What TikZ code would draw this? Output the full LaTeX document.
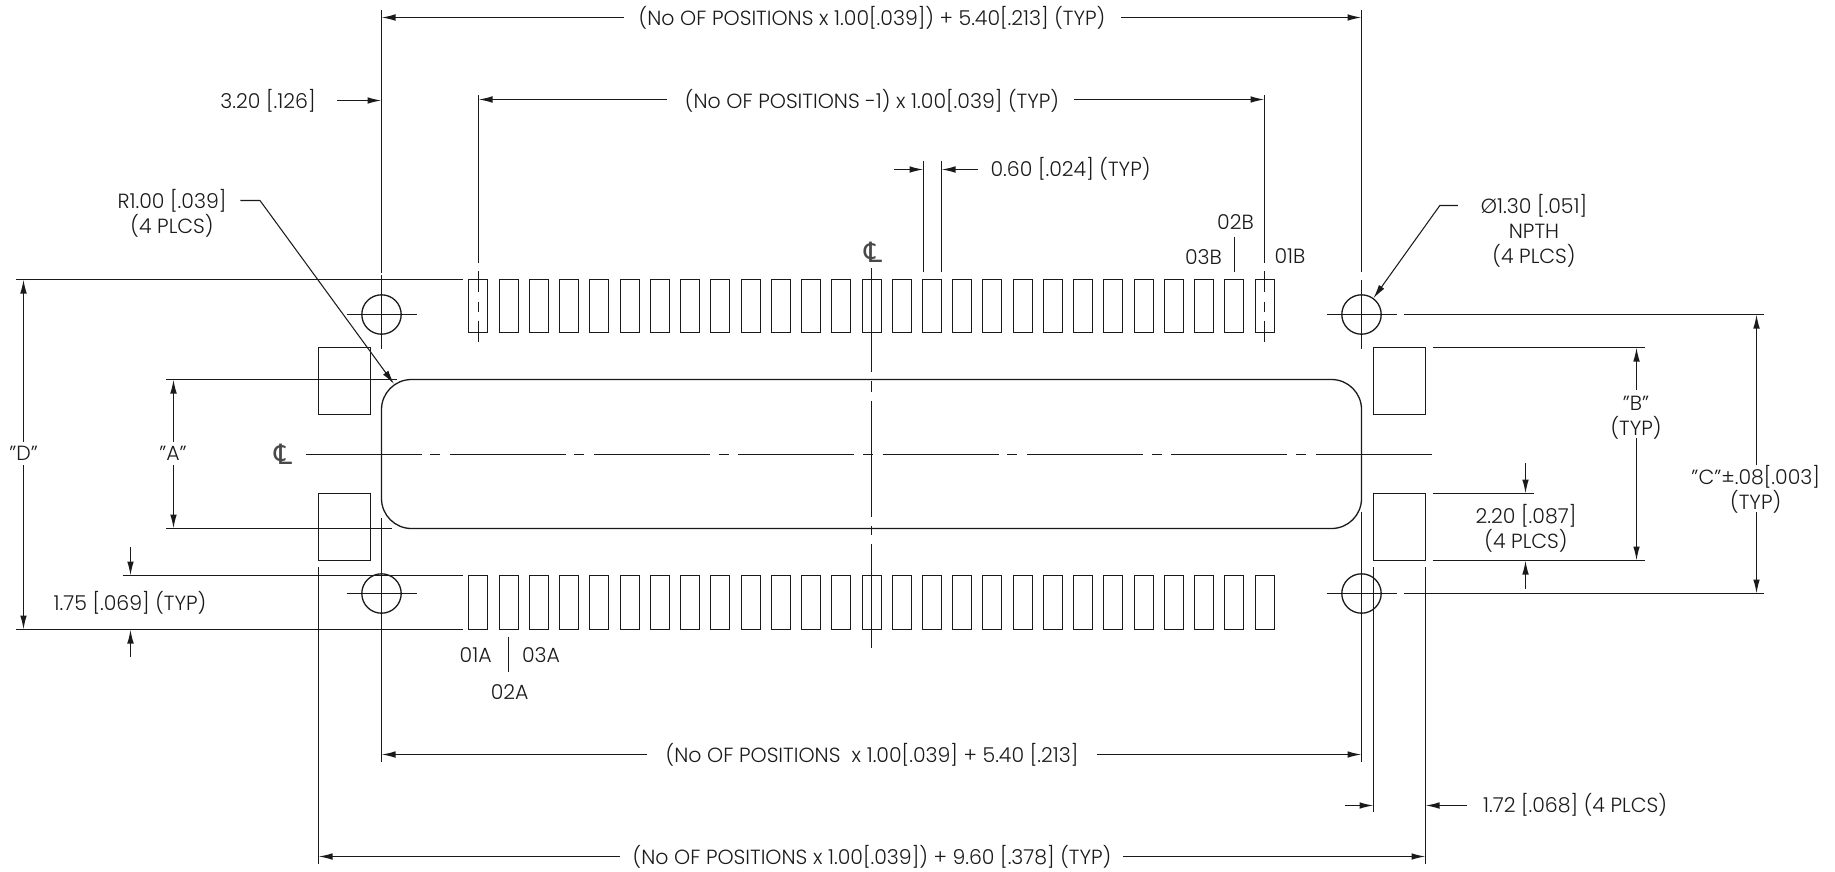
\documentclass[tikz,border=0pt]{standalone}
\usepackage{fontspec}
\setmainfont{Poppins Light}
\newfontfamily\clfont{DejaVu Sans}
\usetikzlibrary{arrows.meta}
\definecolor{ink}{HTML}{1A1A1A}
\tikzset{
 ln/.style={line width=1.3pt,draw=ink},
 thin ln/.style={line width=1.05pt,draw=ink},
 dim/.style={ln,-{Latex[length=14pt,width=6.6pt]}},
 lbl/.style={inner sep=0pt,outer sep=0pt,text=ink,align=center,font=\fontsize{20.5}{25}\selectfont},
 cl/.style={inner sep=0pt,outer sep=0pt,text=ink!80,font=\fontsize{28}{30}\clfont},
 pad/.style={ln,fill=none},
}
\begin{document}
\begin{tikzpicture}[x=1pt,y=-1pt]
\useasboundingbox (0,0) rectangle (1835,871);
% pads
\foreach \i in {0,...,26}{
 \pgfmathsetmacro{\xa}{round(469.4+\i*30.24)-0.5}
 \pgfmathsetmacro{\xb}{\xa+19}
 \draw[pad] (\xa,279.5) rectangle (\xb,332.5);
 \draw[pad] (\xa,575.5) rectangle (\xb,629.5);
}
% solder tabs
\draw[ln] (318.5,347.5) rectangle (370.5,414.5);
\draw[ln] (318.5,493.5) rectangle (370.5,560.5);
\draw[ln] (1373.5,347.5) rectangle (1425.5,414.5);
\draw[ln] (1373.5,493.5) rectangle (1425.5,560.5);
% body
\draw[ln,rounded corners=30pt] (381.5,379.5) rectangle (1361.5,528.5);
% holes
\foreach \x/\y in {381.5/314.5,1361.5/314.5,381.5/593.5,1361.5/593.5}{
 \draw[ln] (\x,\y) circle (19.7);
 \draw[ln] (\x-35,\y) -- (\x+35,\y);
}
% centre lines
\foreach \k in {-4,...,3}{
 \pgfmathsetmacro{\xa}{882.7+\k*144.3}
 \pgfmathsetmacro{\xb}{\xa+116}
 \draw[ln] (\xa,454.5) -- (\xb,454.5);
}
\foreach \k in {-4,...,2}{
 \pgfmathsetmacro{\xa}{863+\k*144.3+144.3}
 \pgfmathsetmacro{\xb}{\xa+10}
 \draw[ln] (\xa,454.5) -- (\xb,454.5);
}
\draw[ln] (871.5,268.3) -- (871.5,371.7) (871.5,381) -- (871.5,391.7) (871.5,400.7) -- (871.5,516.7) (871.5,526) -- (871.5,535) (871.5,544) -- (871.5,648);
\node[cl] (clv) at (873,252) {℄};
\node[cl] (clh) at (283,454) {℄};
% extension lines - verticals
\draw[ln] (381.5,10) -- (381.5,272.7) (381.5,275) -- (381.5,349);
\draw[ln] (1361.5,10) -- (1361.5,271.7) (1361.5,280) -- (1361.5,349);
\draw[ln] (478.5,95) -- (478.5,263.3) (478.5,271) -- (478.5,292.3) (478.5,301.7) -- (478.5,311.7) (478.5,320.7) -- (478.5,342.3);
\draw[ln] (1264.5,95) -- (1264.5,263.3) (1264.5,271) -- (1264.5,292.3) (1264.5,301.7) -- (1264.5,311.7) (1264.5,320.7) -- (1264.5,342.3);
\draw[ln] (923.5,160.7) -- (923.5,271.7) (941.5,160.7) -- (941.5,271.7);
\draw[ln] (1234.5,236.7) -- (1234.5,271.7);
\draw[ln] (508.5,636.7) -- (508.5,671.7);
\draw[ln] (381.5,518) -- (381.5,761.7);
\draw[ln] (1361.5,511.7) -- (1361.5,761.7);
\draw[ln] (318.5,567.3) -- (318.5,864);
\draw[ln] (1425.5,567.3) -- (1425.5,864);
\draw[ln] (1373.5,567.3) -- (1373.5,812.3);
% extension lines - horizontals
\draw[ln] (16,279.5) -- (462.7,279.5);
\draw[ln] (16,629.5) -- (462.7,629.5);
\draw[ln] (122.6,575.5) -- (462.7,575.5);
\draw[ln] (166,379.5) -- (396.6,379.5);
\draw[ln] (166,528.5) -- (391.5,528.5);
\draw[ln] (1404,314.5) -- (1764,314.5);
\draw[ln] (1404,593.5) -- (1764,593.5);
\draw[ln] (1432.7,347.5) -- (1644.5,347.5);
\draw[ln] (1432.7,560.5) -- (1644.5,560.5);
\draw[ln] (1432.7,493.5) -- (1533.8,493.5);
% labels
\node[lbl] (t1) at (872,18) {(No OF POSITIONS x 1.00[.039]) + 5.40[.213] (TYP)};
\node[lbl] (t2) at (872,100.6) {(No OF POSITIONS -1) x 1.00[.039] (TYP)};
\node[lbl] (t3) at (872,754.5) {(No OF POSITIONS\ \ x 1.00[.039] + 5.40 [.213]};
\node[lbl] (t4) at (872,857) {(No OF POSITIONS x 1.00[.039]) + 9.60 [.378] (TYP)};
\node[lbl] (t5) at (268,100.6) {3.20 [.126]};
\node[lbl] (t6) at (1070.5,169) {0.60 [.024] (TYP)};
\node[lbl] (t7) at (172,213) {R1.00 [.039]\\(4 PLCS)};
\node[lbl] (t8) at (1534,231) {Ø1.30 [.051]\\NPTH\\(4 PLCS)};
\node[lbl] (t9) at (1636,417.5) {"B"\\(TYP)};
\node[lbl] (t10) at (1755.7,489.5) {"C"±.08[.003]\\(TYP)};
\node[lbl] (t11) at (1526,528.5) {2.20 [.087]\\(4 PLCS)};
\node[lbl] (t12) at (1575,805) {1.72 [.068] (4 PLCS)};
\node[lbl] (t13) at (130,603.3) {1.75 [.069] (TYP)};
\node[lbl] (t14) at (23.7,453) {"D"};
\node[lbl] (t15) at (173,453) {"A"};
\node[lbl] (t16) at (1290,256) {01B};
\node[lbl] (t17) at (1235.5,222) {02B};
\node[lbl] (t18) at (1203.5,256.7) {03B};
\node[lbl] (t19) at (475.7,655) {01A};
\node[lbl] (t20) at (541,655) {03A};
\node[lbl] (t21) at (509.7,691.7) {02A};
% dimension arrows
\draw[dim] (624,17.5) -- (381.5,17.5);
\draw[dim] (1121,17.5) -- (1361.5,17.5);
\draw[dim] (667,99.5) -- (478.5,99.5);
\draw[dim] (1074,99.5) -- (1264.5,99.5);
\draw[dim] (337,100.5) -- (381.5,100.5);
\draw[dim] (894.3,169.5) -- (923.5,169.5);
\draw[dim] (978.3,169.5) -- (941.5,169.5);
\draw[dim] (647,754.5) -- (381.5,754.5);
\draw[dim] (1097,754.5) -- (1361.5,754.5);
\draw[dim] (620,856.5) -- (318.5,856.5);
\draw[dim] (1123,856.5) -- (1425.5,856.5);
\draw[dim] (1345,805.5) -- (1373.5,805.5);
\draw[dim] (1466.5,805.5) -- (1425.5,805.5);
\draw[dim] (23.5,441.7) -- (23.5,279.5);
\draw[dim] (23.5,465) -- (23.5,629.5);
\draw[dim] (173.5,441.7) -- (173.5,379.5);
\draw[dim] (173.5,465) -- (173.5,528.5);
\draw[dim] (130.5,546.7) -- (130.5,575.5);
\draw[dim] (130.5,657) -- (130.5,629.5);
\draw[dim] (1636.5,390) -- (1636.5,347.5);
\draw[dim] (1636.5,438) -- (1636.5,560.5);
\draw[dim] (1756.5,465) -- (1756.5,314.5);
\draw[dim] (1756.5,512) -- (1756.5,593.5);
\draw[dim] (1525.5,463) -- (1525.5,493.5);
\draw[dim] (1525.5,589) -- (1525.5,560.5);
% leaders
\draw[dim,thin ln] (240.4,200.5) -- (260,200.5) -- (394,384);
\draw[dim,thin ln] (1457.8,205.5) -- (1439.8,205.5) -- (1373.4,298.3);
\end{tikzpicture}
\end{document}
